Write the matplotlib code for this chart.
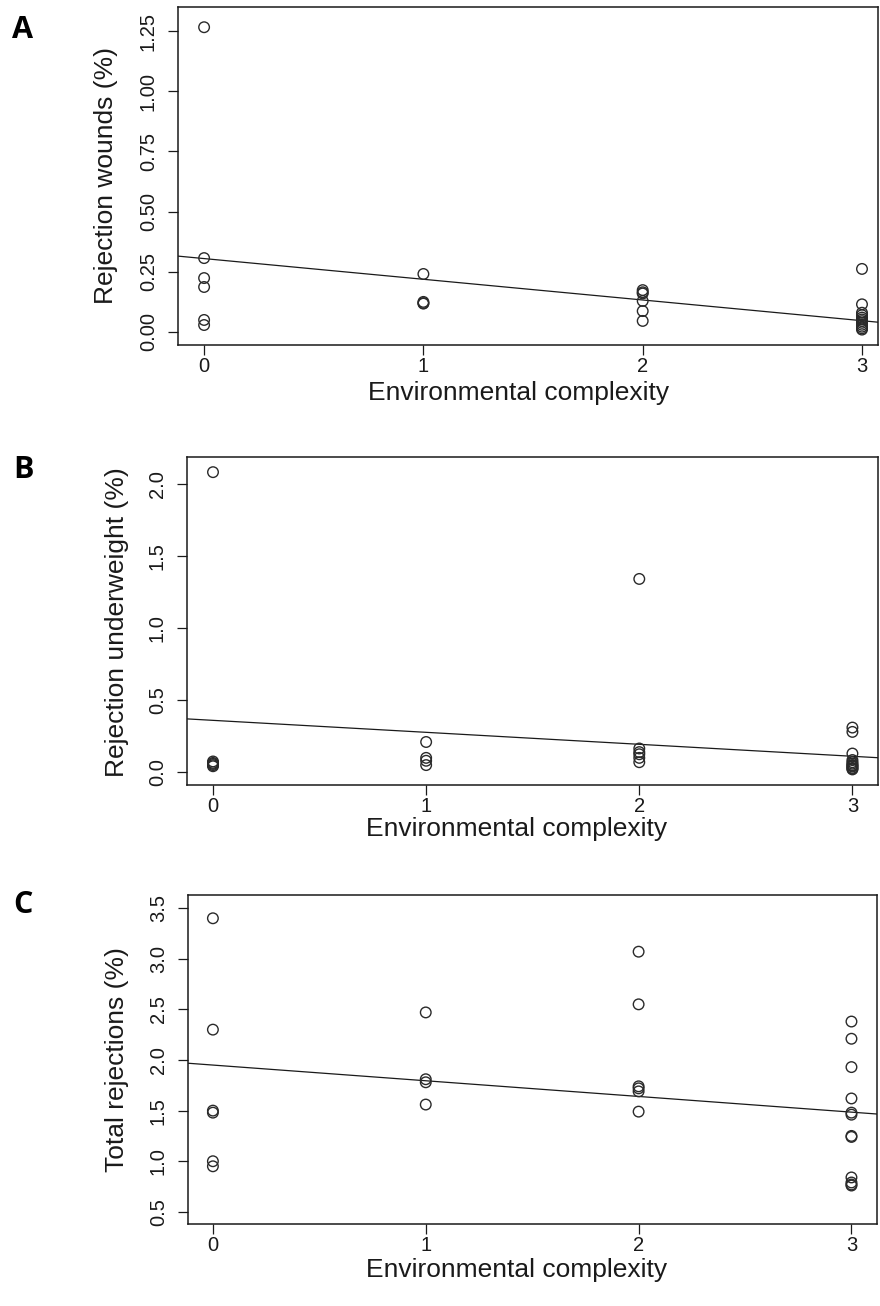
import matplotlib
matplotlib.use("Agg")
import matplotlib.pyplot as plt
import numpy as np

plt.rcParams['font.family'] = ['Liberation Sans', 'DejaVu Sans']

# environmental complexity levels and responses
wounds_x = [0]*6 + [1]*4 + [2]*6 + [3]*12
wounds_y = [1.266, 0.307, 0.224, 0.187, 0.050, 0.029,
            0.241, 0.125, 0.120, 0.118,
            0.174, 0.165, 0.160, 0.129, 0.087, 0.046,
            0.262, 0.115, 0.080, 0.070, 0.060, 0.052, 0.045, 0.038, 0.030, 0.022, 0.015, 0.010]
wounds_fit = (0.305, -0.086)

under_x = [0]*6 + [1]*4 + [2]*6 + [3]*12
under_y = [2.08, 0.075, 0.065, 0.058, 0.050, 0.042,
           0.21, 0.10, 0.08, 0.05,
           1.34, 0.165, 0.14, 0.125, 0.10, 0.07,
           0.31, 0.28, 0.13, 0.085, 0.07, 0.06, 0.05, 0.045, 0.04, 0.03, 0.025, 0.02]
under_fit = (0.36, -0.083)

total_x = [0]*6 + [1]*4 + [2]*6 + [3]*12
total_y = [3.40, 2.30, 1.50, 1.48, 1.00, 0.95,
           2.47, 1.81, 1.78, 1.56,
           3.07, 2.55, 1.74, 1.72, 1.69, 1.49,
           2.38, 2.21, 1.93, 1.62, 1.48, 1.46, 1.25, 1.24, 0.84, 0.79, 0.77, 0.76]
total_fit = (1.95, -0.155)

W, H = 880, 1306
fig = plt.figure(figsize=(W/100, H/100), dpi=100)

def px_axes(left, right, top, bottom):
    return fig.add_axes([left/W, 1 - bottom/H, (right-left)/W, (bottom-top)/H])

def px_text(x, y, s, **kw):
    fig.text(x/W, 1 - y/H, s, ha='center', va='center', **kw)

panels = [
    dict(x=wounds_x, y=wounds_y, fit=wounds_fit, box=(178, 878, 7, 345),
         xlim=(-0.119, 3.073), ylim=(-0.054, 1.35),
         yticks=[0, 0.25, 0.5, 0.75, 1.0, 1.25], yfmt='%.2f',
         ylabel='Rejection wounds (%)', ylab_xy=(106, 176), xlab_xy=(519, 393),
         letter='A', let_xy=(23, 30)),
    dict(x=under_x, y=under_y, fit=under_fit, box=(187, 878, 457, 785),
         xlim=(-0.122, 3.12), ylim=(-0.088, 2.185),
         yticks=[0, 0.5, 1.0, 1.5, 2.0], yfmt='%.1f',
         ylabel='Rejection underweight (%)', ylab_xy=(117, 622), xlab_xy=(517, 829),
         letter='B', let_xy=(23, 470)),
    dict(x=total_x, y=total_y, fit=total_fit, box=(188, 877, 895, 1224),
         xlim=(-0.117, 3.12), ylim=(0.38, 3.63),
         yticks=[0.5, 1.0, 1.5, 2.0, 2.5, 3.0, 3.5], yfmt='%.1f',
         ylabel='Total rejections (%)', ylab_xy=(117, 1060), xlab_xy=(517, 1270),
         letter='C', let_xy=(23, 905)),
]

ink = '#1a1a1a'
for p in panels:
    ax = px_axes(*p['box'])
    ax.scatter(p['x'], p['y'], s=58, facecolors='none', edgecolors='#2a2a2a',
               linewidths=1.0, zorder=3)
    a, b = p['fit']
    xs = np.array(p['xlim'])
    ax.plot(xs, a + b*xs, color=ink, lw=0.9)
    ax.set_xlim(*p['xlim'])
    ax.set_ylim(*p['ylim'])
    ax.set_xticks([0, 1, 2, 3])
    ax.set_yticks(p['yticks'])
    ax.set_yticklabels([p['yfmt'] % v for v in p['yticks']], rotation=90, va='center')
    ax.tick_params(direction='out', length=7.5, width=0.9, color=ink,
                   labelsize=14.5, labelcolor=ink)
    ax.tick_params(axis='y', pad=7)
    ax.tick_params(axis='x', pad=1)
    for s in ax.spines.values():
        s.set_linewidth(1.1)
        s.set_color(ink)
    px_text(*p['ylab_xy'], p['ylabel'], rotation=90, fontsize=19, color=ink)
    px_text(*p['xlab_xy'], 'Environmental complexity', fontsize=19, color=ink)
    px_text(*p['let_xy'], p['letter'], fontsize=22, fontweight='bold',
            family=['Open Sans', 'DejaVu Sans'], color='black')

fig.savefig('out.png', dpi=100)
